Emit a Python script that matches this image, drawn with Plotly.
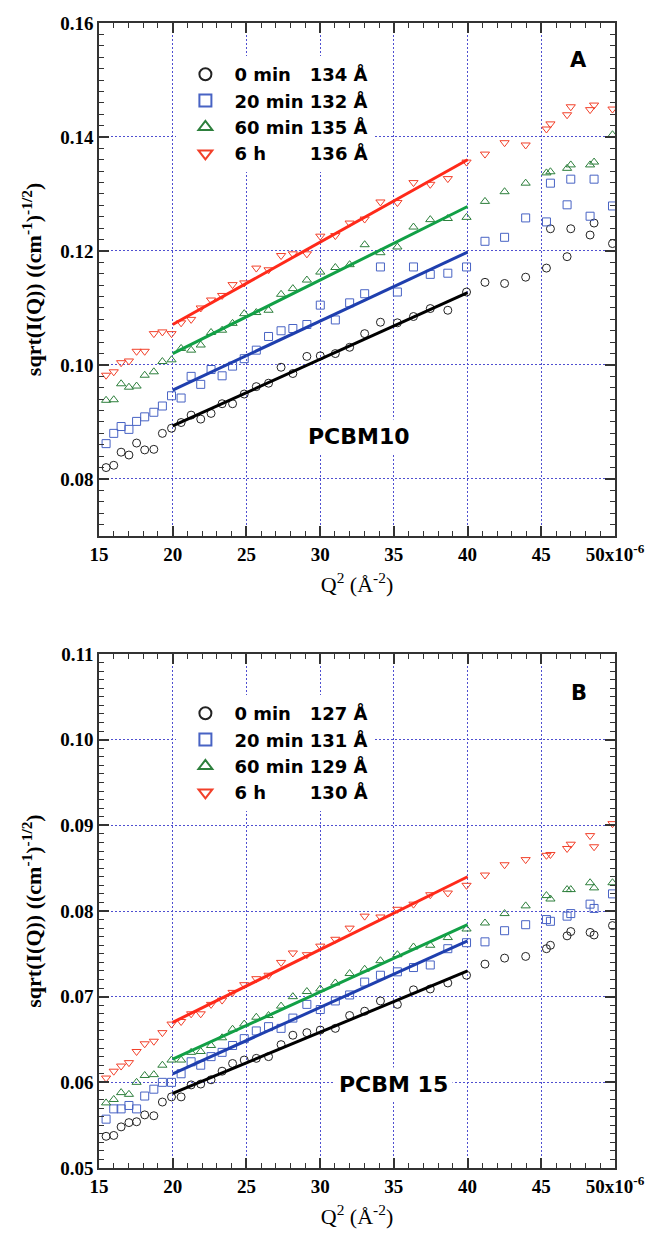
import plotly.graph_objects as go

# ---------------- data ----------------
q2 = [15.48, 16.0, 16.5, 17.03, 17.55, 18.1, 18.72, 19.3, 19.92, 20.57,
      21.25, 21.9, 22.6, 23.35, 24.06, 24.85, 25.67, 26.5, 27.35, 28.15,
      29.1, 30.01, 31.03, 32.0, 33.02, 34.09, 35.24, 36.33, 37.47, 38.66,
      39.93, 41.18, 42.51, 43.94, 45.35, 45.62, 46.75, 47.0, 48.31, 48.58, 49.83]

series_names_A = ["0 min\u2007 134 Å", "20 min 132 Å", "60 min 135 Å", "6 h\u2007\u2007\u2007 136 Å"]
series_names_B = ["0 min\u2007 127 Å", "20 min 131 Å", "60 min 129 Å", "6 h\u2007\u2007\u2007 130 Å"]

A_0min = [0.0820, 0.0824, 0.0847, 0.0842, 0.0863, 0.0851, 0.0852, 0.0880, 0.0889, 0.0899,
          0.0912, 0.0905, 0.0915, 0.0932, 0.0932, 0.0949, 0.0962, 0.0968, 0.0996, 0.0985,
          0.1015, 0.1016, 0.1020, 0.1031, 0.1055, 0.1075, 0.1074, 0.1085, 0.1099, 0.1096,
          0.1128, 0.1145, 0.1143, 0.1154, 0.1170, 0.1239, 0.1190, 0.1239, 0.1228, 0.1249, 0.1213]
A_20min = [0.0862, 0.0880, 0.0892, 0.0887, 0.0901, 0.0909, 0.0917, 0.0928, 0.0946, 0.0942,
           0.0980, 0.0966, 0.0992, 0.0981, 0.0998, 0.1011, 0.1026, 0.1050, 0.1060, 0.1064,
           0.1071, 0.1105, 0.1079, 0.1109, 0.1125, 0.1172, 0.1128, 0.1172, 0.1159, 0.1161,
           0.1172, 0.1217, 0.1224, 0.1258, 0.1251, 0.1319, 0.1281, 0.1326, 0.1261, 0.1326, 0.1279]
A_60min = [0.0938, 0.0939, 0.0967, 0.0961, 0.0963, 0.0982, 0.0988, 0.1006, 0.1009, 0.1029,
           0.1026, 0.1035, 0.1057, 0.1061, 0.1073, 0.1090, 0.1092, 0.1096, 0.1124, 0.1134,
           0.1149, 0.1163, 0.1171, 0.1176, 0.1211, 0.1197, 0.1207, 0.1242, 0.1255, 0.1257,
           0.1259, 0.1287, 0.1304, 0.1319, 0.1337, 0.1339, 0.1345, 0.1351, 0.1351, 0.1356, 0.1404]
A_6h = [0.0982, 0.0988, 0.1004, 0.1007, 0.1024, 0.1024, 0.1055, 0.1058, 0.1055, 0.1074,
        0.1080, 0.1100, 0.1114, 0.1122, 0.1141, 0.1144, 0.1170, 0.1167, 0.1192, 0.1195,
        0.1195, 0.1226, 0.1227, 0.1249, 0.1256, 0.1286, 0.1285, 0.1320, 0.1317, 0.1327,
        0.1356, 0.1370, 0.1390, 0.1386, 0.1414, 0.1423, 0.1439, 0.1453, 0.1448, 0.1456, 0.1449]

B_0min = [0.0537, 0.0538, 0.0548, 0.0553, 0.0554, 0.0562, 0.0561, 0.0577, 0.0583, 0.0583,
          0.0597, 0.0598, 0.0603, 0.0613, 0.0622, 0.0626, 0.0628, 0.0630, 0.0644, 0.0655,
          0.0658, 0.0661, 0.0663, 0.0678, 0.0683, 0.0695, 0.0691, 0.0708, 0.0709, 0.0716,
          0.0725, 0.0738, 0.0745, 0.0747, 0.0756, 0.0760, 0.0771, 0.0776, 0.0775, 0.0772, 0.0783]
B_20min = [0.0557, 0.0569, 0.0569, 0.0573, 0.0569, 0.0584, 0.0592, 0.0600, 0.0600, 0.0610,
           0.0624, 0.0620, 0.0630, 0.0635, 0.0643, 0.0651, 0.0660, 0.0665, 0.0663, 0.0675,
           0.0691, 0.0685, 0.0695, 0.0702, 0.0717, 0.0725, 0.0729, 0.0734, 0.0737, 0.0756,
           0.0763, 0.0764, 0.0777, 0.0784, 0.0790, 0.0788, 0.0794, 0.0797, 0.0808, 0.0803, 0.0820]
B_60min = [0.0576, 0.0580, 0.0588, 0.0586, 0.0600, 0.0608, 0.0609, 0.0620, 0.0626, 0.0626,
           0.0635, 0.0636, 0.0643, 0.0652, 0.0662, 0.0668, 0.0676, 0.0678, 0.0689, 0.0700,
           0.0706, 0.0709, 0.0716, 0.0727, 0.0732, 0.0742, 0.0749, 0.0758, 0.0760, 0.0769,
           0.0779, 0.0786, 0.0797, 0.0806, 0.0818, 0.0814, 0.0825, 0.0825, 0.0833, 0.0827, 0.0833]
B_6h = [0.0605, 0.0613, 0.0619, 0.0623, 0.0636, 0.0645, 0.0648, 0.0658, 0.0668, 0.0671,
        0.0680, 0.0680, 0.0691, 0.0696, 0.0705, 0.0714, 0.0721, 0.0725, 0.0740, 0.0751,
        0.0749, 0.0759, 0.0767, 0.0780, 0.0794, 0.0793, 0.0802, 0.0808, 0.0819, 0.0821,
        0.0830, 0.0842, 0.0854, 0.0860, 0.0865, 0.0866, 0.0873, 0.0878, 0.0888, 0.0875, 0.0902]

# linear Guinier fits, Q^2 = 20..40 (x1e-6)
fit_x = [20, 40]
A_fits = [[0.0893, 0.1127], [0.0956, 0.1198], [0.1020, 0.1278], [0.1071, 0.1360]]
B_fits = [[0.0587, 0.0730], [0.0610, 0.0765], [0.0627, 0.0784], [0.0670, 0.0840]]

x_tickvals = [15, 20, 25, 30, 35, 40, 45, 50]
x_ticktext = ["15", "20", "25", "30", "35", "40", "45", "50x10<sup>-6</sup>"]

# ---------------- styles ----------------
symbols = ["circle-open", "square-open", "triangle-up-open", "triangle-down-open"]
mcolors = ["#222222", "#4863c4", "#2d7f3c", "#f2402a"]
lcolors = ["#000000", "#1f3fae", "#12a046", "#ff2a1a"]

fig = go.Figure()

panels = [
    ("x", "y", "legend", series_names_A, [A_0min, A_20min, A_60min, A_6h], A_fits),
    ("x2", "y2", "legend2", series_names_B, [B_0min, B_20min, B_60min, B_6h], B_fits),
]
for xa, ya, lg, names, ys, fits in panels:
    for i in range(4):
        fig.add_trace(go.Scatter(
            x=q2, y=ys[i], mode="markers", name=names[i], legend=lg,
            xaxis=xa, yaxis=ya,
            marker=dict(symbol=symbols[i], size=8, color=mcolors[i],
                        line=dict(width=1, color=mcolors[i])),
        ))
    for i in range(4):
        fig.add_trace(go.Scatter(
            x=fit_x, y=fits[i], mode="lines", showlegend=False,
            xaxis=xa, yaxis=ya, line=dict(color=lcolors[i], width=3),
        ))

AX = "#333333"
GRID = "#4f4fd0"
GDASH = "2px,2px"
tickfont = dict(family="Liberation Serif", size=19, color="black", weight="bold")
xtitle = dict(text="Q<sup>2</sup> (Å<sup>-2</sup>)",
              font=dict(family="Liberation Serif", size=22, color="black"), standoff=13)
ytitle = dict(text="sqrt(I(Q)) ((cm<sup>-1</sup>)<sup>-1/2</sup>)",
              font=dict(family="Liberation Serif", size=22, color="black", weight="bold"), standoff=12)

def xaxis_cfg(anchor):
    return dict(anchor=anchor, domain=[0, 1], range=[15, 50], tickmode="array",
                tickvals=x_tickvals, ticktext=x_ticktext, ticks="inside", ticklen=10,
                tickwidth=1.5, tickcolor=AX, mirror="allticks", showline=True,
                linecolor=AX, linewidth=1.5, showgrid=True, gridcolor=GRID,
                griddash=GDASH, gridwidth=1, zeroline=False, tickfont=tickfont,
                automargin=False,
                minor=dict(tick0=15, dtick=1, ticks="inside", ticklen=5, tickwidth=1.2,
                           tickcolor=AX, showgrid=False),
                title=xtitle)

def yaxis_cfg(anchor, dom, rng, t0, dt, mdt):
    return dict(anchor=anchor, domain=dom, range=rng, tickmode="linear", tick0=t0,
                dtick=dt, tickformat=".2f", ticks="inside", ticklen=10, tickwidth=1.5,
                tickcolor=AX, mirror="allticks", showline=True, linecolor=AX,
                linewidth=1.5, showgrid=True, gridcolor=GRID, griddash=GDASH,
                gridwidth=1, zeroline=False, tickfont=tickfont, automargin=False,
                minor=dict(tick0=rng[0], dtick=mdt, ticks="inside", ticklen=5,
                           tickwidth=1.2, tickcolor=AX, showgrid=False),
                title=ytitle)

legfont = dict(family="DejaVu Sans", size=18, color="black", weight="bold")
fig.update_layout(
    width=646, height=1240,
    margin=dict(l=99, r=31, t=23, b=72, autoexpand=False),
    paper_bgcolor="white", plot_bgcolor="white",
    xaxis=xaxis_cfg("y"),
    yaxis=yaxis_cfg("x", [0.552, 1.0], [0.07, 0.16], 0.08, 0.02, 0.002),
    xaxis2=xaxis_cfg("y2"),
    yaxis2=yaxis_cfg("x2", [0.0, 0.4489], [0.05, 0.11], 0.05, 0.01, 0.001),
    legend=dict(x=0.150, y=0.9712, xanchor="left", yanchor="top",
                bgcolor="white", font=legfont, itemsizing="constant",
                itemwidth=48, tracegroupgap=0),
    legend2=dict(x=0.150, y=0.4131, xanchor="left", yanchor="top",
                 bgcolor="white", font=legfont, itemsizing="constant",
                 itemwidth=48, tracegroupgap=0),
    showlegend=True,
)

annfont = dict(family="DejaVu Sans", size=21, color="black", weight="bold")
common = dict(xref="paper", yref="paper", showarrow=False, xanchor="center", yanchor="middle")
fig.add_annotation(text="A", x=0.930, y=0.9677, font=annfont, **common)
fig.add_annotation(text="B", x=0.930, y=0.4148, font=annfont, **common)
fig.add_annotation(text="PCBM10", x=0.5039, y=0.6393, font=dict(annfont, size=22),
                   bgcolor="white", borderpad=4, **common)
fig.add_annotation(text="PCBM 15", x=0.5698, y=0.0725, font=dict(annfont, size=22),
                   bgcolor="white", borderpad=4, **common)

# remove the browser's default 8 px body margin so the figure fills the window exactly
fig.write_html("out.html", config={"displayModeBar": False},
               post_script="document.body.style.margin='0';")
